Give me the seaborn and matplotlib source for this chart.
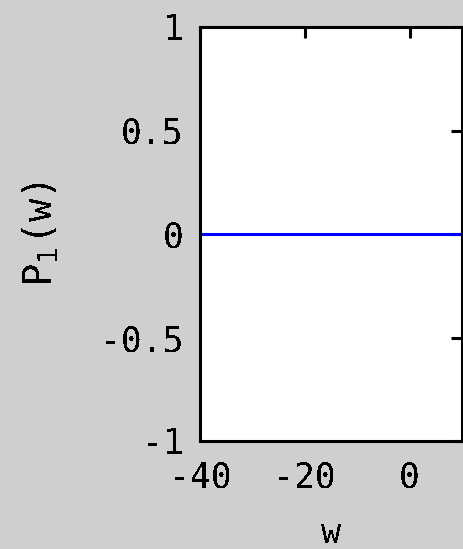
import matplotlib
matplotlib.use("Agg")
import matplotlib.pyplot as plt
import seaborn as sns
import pandas as pd

# first-order term P_1(w) over the frequency range
omega = [-40, 10]
p1 = [0.0, 0.0]
x_ticks = [-40, -20, 0]
y_ticks = [-1, -0.5, 0, 0.5, 1]
y_tick_labels = ["-1", "-0.5", "0", "0.5", "1"]

sns.set_theme(style="white")
plt.rcParams["font.family"] = ["DejaVu Sans Mono", "DejaVu Sans"]
plt.rcParams["text.antialiased"] = False

bg = "#cfcfcf"
fig = plt.figure(figsize=(4.64, 5.49), dpi=100, facecolor=bg)
ax = fig.add_axes([200 / 464, 108 / 549, 262 / 464, 414 / 549])
ax.set_facecolor("white")

df = pd.DataFrame({"w": omega, "P1": p1})
sns.lineplot(data=df, x="w", y="P1", ax=ax, color="#0000ff", linewidth=2.2)

ax.set_xlim(-40, 10)
ax.set_ylim(-1, 1)
ax.set_xticks(x_ticks)
ax.set_xticklabels([str(t) for t in x_ticks])
ax.set_yticks(y_ticks)
ax.set_yticklabels(y_tick_labels)

for s in ax.spines.values():
    s.set_color("black")
    s.set_linewidth(2.2)

ax.tick_params(axis="both", direction="in", length=8, width=2.2, color="black",
               labelsize=25, labelcolor="black", top=True, right=True, pad=12)
ax.tick_params(axis="x", pad=14)

ax.set_xlabel("w", fontsize=24, color="black", labelpad=16)
ax.set_ylabel(r"P$_1$(w)", fontsize=28, color="black", labelpad=28)

fig.savefig("out.png", dpi=100, facecolor=bg)
